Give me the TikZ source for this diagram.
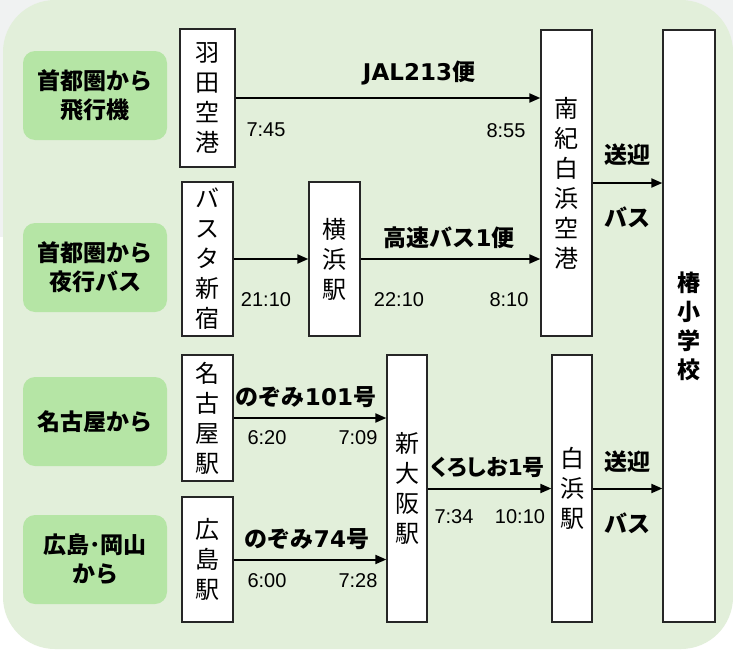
\documentclass[tikz,border=0pt]{standalone}
\usepackage{fontspec}
\usetikzlibrary{arrows.meta}
\setmainfont{Liberation Sans}
\newfontfamily\cjk{Noto Sans CJK JP}
\newfontfamily\cjkp[RawFeature=+palt]{Noto Sans CJK JP}
\newfontfamily\dvb{DejaVu Sans}
\definecolor{bggreen}{HTML}{E2EFDA}
\definecolor{labgreen}{HTML}{B5E5A5}
\definecolor{outergray}{HTML}{F0F2F2}
\begin{document}
\begin{tikzpicture}[x=1pt,y=-1pt,
  grouplab/.style={fill=labgreen, rounded corners=12pt, minimum width=144pt, minimum height=89pt, inner sep=0pt, align=center, font=\cjk\bfseries\fontsize{23}{29}\selectfont},
  stbox/.style={draw=black!85, line width=1.3pt, fill=white, inner sep=0pt, align=center, font=\cjk\fontsize{24}{30}\selectfont},
  arr/.style={-{Triangle[length=11pt,width=9pt]}, line width=2pt},
  tm/.style={inner sep=0pt, font=\fontsize{20}{24}\selectfont},
  rl/.style={inner sep=0pt, font=\fontsize{23}{28}\selectfont}
]
\useasboundingbox (0,0) rectangle (733,653);
\fill[white] (0,0) rectangle (733,653);
\fill[outergray] (0,0) rectangle (733,237);
\fill[bggreen, rounded corners=52pt] (3,0) rectangle (733,649);

% group labels
\node[grouplab] (g1) at (95,95.5) {首都圏から\\飛行機};
\node[grouplab] (g2) at (95,267.5) {首都圏から\\夜行バス};
\node[grouplab] (g3) at (95,421.5) {名古屋から};
\node[grouplab] (g4) at (95,559.5) {広島･岡山\\から};

% station boxes
\node[stbox, minimum width=55pt, minimum height=138pt] (hnd) at (207.5,98) {羽\\田\\空\\港};
\node[stbox, minimum width=51pt, minimum height=154pt] (bst) at (207.5,259) {バ\\ス\\タ\\新\\宿};
\node[stbox, minimum width=51pt, minimum height=154pt] (ykh) at (334.5,259) {横\\浜\\駅};
\node[stbox, minimum width=51pt, minimum height=306pt] (nki) at (566.5,183) {南\\紀\\白\\浜\\空\\港};
\node[stbox, minimum width=52pt, minimum height=592pt, font=\cjk\bfseries\fontsize{23}{29}\selectfont] (tsb) at (689,326) {椿\\小\\学\\校};
\node[stbox, minimum width=51pt, minimum height=126pt] (ngy) at (207.5,418) {名\\古\\屋\\駅};
\node[stbox, minimum width=51pt, minimum height=125pt] (hrs) at (207.5,559.5) {広\\島\\駅};
\node[stbox, minimum width=40pt, minimum height=267pt] (osk) at (407,488.5) {新\\大\\阪\\駅};
\node[stbox, minimum width=40pt, minimum height=267pt] (shr) at (572,488.5) {白\\浜\\駅};

% connectors
\draw[arr] (hnd.east) -- (hnd.east -| nki.west);
\draw[arr] (bst.east) -- (bst.east -| ykh.west);
\draw[arr] (ykh.east) -- (ykh.east -| nki.west);
\draw[arr] (nki.east) -- (nki.east -| tsb.west);
\draw[arr] (ngy.east) -- (ngy.east -| osk.west);
\draw[arr] (hrs.east) -- (hrs.east -| osk.west);
\draw[arr] (osk.east) -- (osk.east -| shr.west);
\draw[arr] (shr.east) -- (shr.east -| tsb.west);

% route labels
\node[rl] (r1) at (419,73) {{\dvb\bfseries JAL213}{\cjk\bfseries 便}};
\node[rl] (r2) at (449,238) {{\cjk\bfseries 高速バス}{\dvb\bfseries 1}{\cjk\bfseries 便}};
\node[rl] (r3) at (306,397) {{\cjk\bfseries のぞみ}{\dvb\bfseries 101}{\cjk\bfseries 号}};
\node[rl] (r4) at (307,539) {{\cjk\bfseries のぞみ}{\dvb\bfseries 74}{\cjk\bfseries 号}};
\node[rl, font=\fontsize{22}{27}\selectfont] (r5) at (488,467) {{\cjkp\bfseries くろしお}{\dvb\bfseries 1}{\cjk\bfseries 号}};
\node[rl, font=\cjk\bfseries\fontsize{23}{29}\selectfont] (b1) at (627,155) {送迎};
\node[rl, font=\cjk\bfseries\fontsize{23}{29}\selectfont] (b2) at (627,217) {バス};
\node[rl, font=\cjk\bfseries\fontsize{23}{29}\selectfont] (b3) at (627,462) {送迎};
\node[rl, font=\cjk\bfseries\fontsize{23}{29}\selectfont] (b4) at (627,523) {バス};

% times
\node[tm] (t1) at (266,130) {7:45};
\node[tm] (t2) at (506,131) {8:55};
\node[tm] (t3) at (266,300) {21:10};
\node[tm] (t4) at (399,300) {22:10};
\node[tm] (t5) at (509,300) {8:10};
\node[tm] (t6) at (267,438) {6:20};
\node[tm] (t7) at (358,438) {7:09};
\node[tm] (t8) at (267,581) {6:00};
\node[tm] (t9) at (358,581) {7:28};
\node[tm] (t10) at (454,517) {7:34};
\node[tm] (t11) at (520,517) {10:10};
\end{tikzpicture}
\end{document}
